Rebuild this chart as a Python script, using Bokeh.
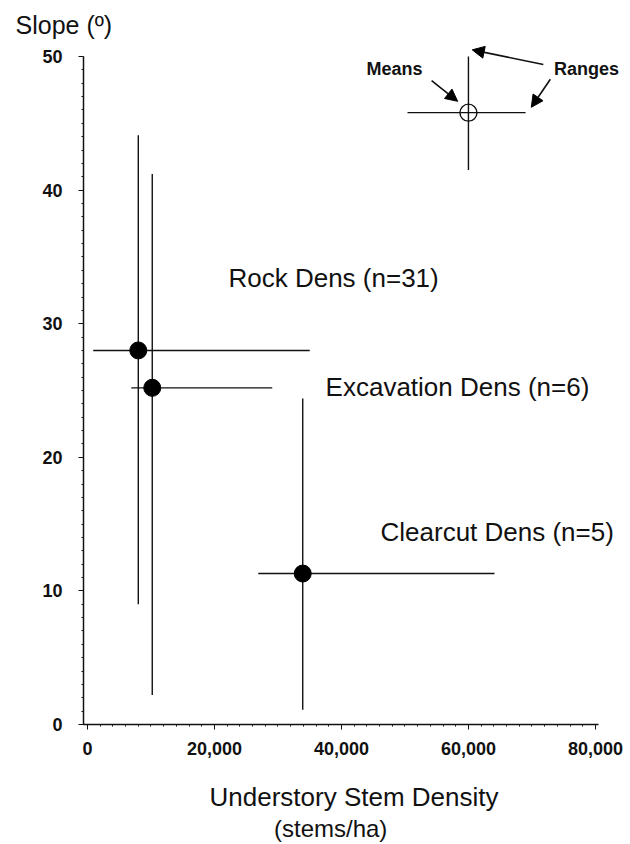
from bokeh.plotting import figure
from bokeh.models import (ColumnDataSource, Range1d, Label, Arrow, NormalHead,
                          NumeralTickFormatter, FixedTicker, LinearAxis)
from bokeh.embed import file_html
from bokeh.resources import INLINE

# ---- data ----
groups = ["Rock Dens (n=31)", "Excavation Dens (n=6)", "Clearcut Dens (n=5)"]
mean_density = [8000, 10200, 33900]
mean_slope = [28.0, 25.2, 11.3]
density_min = [900, 6900, 26900]
density_max = [35000, 29100, 64100]
slope_min = [9.0, 2.2, 1.1]
slope_max = [44.1, 41.2, 24.4]

# key (legend) example
key_density = [60000]
key_slope = [45.8]
key_density_min = [50400]
key_density_max = [69000]
key_slope_min = [41.5]
key_slope_max = [50.0]

x_ticks = [0, 20000, 40000, 60000, 80000]
y_ticks = [0, 10, 20, 30, 40, 50]

FONT = "Liberation Sans"
INK = "#111111"

p = figure(width=628, height=844, output_backend="svg", toolbar_location=None,
           x_range=Range1d(-630, 84580), y_range=Range1d(0, 51.2),
           min_border_left=83, min_border_right=4, min_border_top=40,
           min_border_bottom=119)
p.outline_line_color = None
p.grid.grid_line_color = None
p.background_fill_color = "white"

# y-axis title as the plot title, shifted left over the tick labels
p.title.text = "Slope (\u00ba)"
p.title.text_font = FONT
p.title.text_font_size = "25px"
p.title.text_font_style = "normal"
p.title.text_color = INK
p.title.align = "left"
p.title.offset = -68
p.title.standoff = 4

src = ColumnDataSource(dict(x=mean_density, y=mean_slope, x0=density_min, x1=density_max,
                            y0=slope_min, y1=slope_max, name=groups))
p.segment(x0="x0", y0="y", x1="x1", y1="y", source=src, line_color=INK, line_width=1.4)
p.segment(x0="x", y0="y0", x1="x", y1="y1", source=src, line_color=INK, line_width=1.4)
p.scatter(x="x", y="y", source=src, size=17, fill_color="black", line_color="black")

ksrc = ColumnDataSource(dict(x=key_density, y=key_slope, x0=key_density_min, x1=key_density_max,
                             y0=key_slope_min, y1=key_slope_max))
p.segment(x0="x0", y0="y", x1="x1", y1="y", source=ksrc, line_color=INK, line_width=1.4)
p.segment(x0="x", y0="y0", x1="x", y1="y1", source=ksrc, line_color=INK, line_width=1.4)
p.scatter(x="x", y="y", source=ksrc, size=17, fill_alpha=0, line_color=INK, line_width=1.4)

# arrows of the key
arrow_src = ColumnDataSource(dict(xs=[54200, 71800, 72900], ys=[48.2, 49.4, 48.3],
                                  xe=[58300, 60600, 69900], ye=[46.65, 50.5, 46.2]))
p.add_layout(Arrow(end=NormalHead(size=12, fill_color="black", line_color="black"),
                   x_start="xs", y_start="ys", x_end="xe", y_end="ye", source=arrow_src,
                   line_color=INK, line_width=1.6))

for txt, x, y in [("Means", 48350, 49.05), ("Ranges", 78600, 49.1)]:
    p.add_layout(Label(x=x, y=y, text=txt, text_font=FONT, text_font_size="18px",
                       text_font_style="bold", text_align="center", text_baseline="middle",
                       text_color=INK))

# group labels
label_pos = [(22200, 33.4), (37500, 25.25), (46150, 14.4)]
for name, (x, y) in zip(groups, label_pos):
    p.add_layout(Label(x=x, y=y, text=name, text_font=FONT, text_font_size="26px",
                       text_align="left", text_baseline="middle", text_color=INK))

# axes
for ax in (p.xaxis[0], p.yaxis[0]):
    ax.axis_line_color = INK
    ax.axis_line_width = 1.5
    ax.major_tick_line_color = INK
    ax.minor_tick_line_color = INK
    ax.major_tick_in = 0
    ax.major_tick_out = 5
    ax.minor_tick_in = 0
    ax.minor_tick_out = 2
    ax.major_label_text_font = FONT
    ax.major_label_text_font_size = "18px"
    ax.major_label_text_font_style = "bold"
    ax.major_label_text_color = INK

p.xaxis[0].ticker = FixedTicker(ticks=x_ticks, minor_ticks=list(range(0, 80001, 2000)))
p.yaxis[0].ticker = FixedTicker(ticks=y_ticks, minor_ticks=list(range(0, 51, 1)))
p.xaxis[0].formatter = NumeralTickFormatter(format="0,0")
p.xaxis[0].major_label_standoff = 12
p.yaxis[0].major_label_standoff = 16
p.xaxis[0].bounds = (-630, 80480)
p.yaxis[0].bounds = (0, 50)

p.xaxis[0].axis_label = "Understory Stem Density"
p.xaxis[0].axis_label_text_font = FONT
p.xaxis[0].axis_label_text_font_size = "26px"
p.xaxis[0].axis_label_text_font_style = "normal"
p.xaxis[0].axis_label_text_color = INK
p.xaxis[0].axis_label_standoff = 24

# second line of the x title: an extra, bare axis below
sub = LinearAxis(ticker=FixedTicker(ticks=[]), axis_line_color=None,
                 major_tick_line_color=None, minor_tick_line_color=None,
                 axis_label="(stems/ha)" + "\u00a0" * 7,
                 axis_label_text_font=FONT, axis_label_text_font_size="24px",
                 axis_label_text_font_style="normal", axis_label_text_color=INK,
                 axis_label_standoff=0)
p.add_layout(sub, "below")

open("out.html", "w").write(file_html(p, INLINE))
